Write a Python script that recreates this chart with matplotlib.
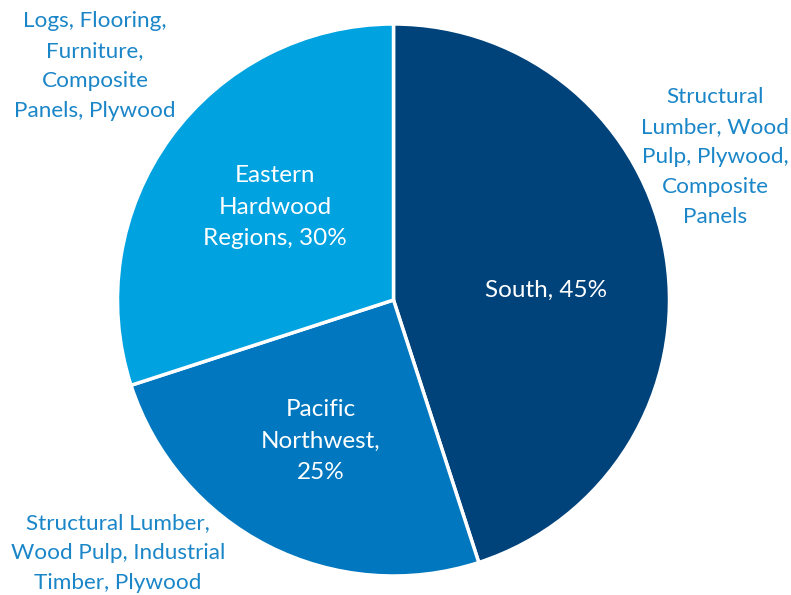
import matplotlib
matplotlib.use("Agg")
import matplotlib.pyplot as plt

regions = ["South", "Pacific\nNorthwest,", "Eastern\nHardwood\nRegions,"]
shares = [45, 25, 30]
colors = ["#00427a", "#0077be", "#00a2e0"]
products = [
    "Structural\nLumber, Wood\nPulp, Plywood,\nComposite\nPanels",
    "Structural Lumber,\nWood Pulp, Industrial\nTimber, Plywood",
    "Logs, Flooring,\nFurniture,\nComposite\nPanels, Plywood",
]

W, H = 791, 595
fig = plt.figure(figsize=(W / 100, H / 100), dpi=100)
ax = fig.add_axes([0, 0, 1, 1])

cx, cy, r = 393.5, H - 300, 276
ax.pie(shares, colors=colors, startangle=90, counterclock=False,
       center=(cx, cy), radius=r,
       wedgeprops=dict(edgecolor="white", linewidth=2.5))
ax.set_xlim(0, W)
ax.set_ylim(0, H)
ax.set_aspect("equal")
ax.axis("off")

font = "Lato"
txt_blue = "#1a86c8"

# inner labels
inner_pos = [(546, 290), (321, 441), (275, 207)]
for name, s, (x, y) in zip(regions, shares, inner_pos):
    if name == "South":
        label = f"{name}, {s}%"
    elif name.startswith("Pacific"):
        label = f"{name}\n{s}%"
    else:
        label = f"{name} {s}%"
    ax.text(x, H - y, label, color="white", ha="center", va="center",
            fontsize=17.5, family=font, linespacing=1.6)

# outer product labels
outer_pos = [(715, 157), (118, 553), (95, 66)]
for lab, (x, y) in zip(products, outer_pos):
    ax.text(x, H - y, lab, color=txt_blue, ha="center", va="center",
            fontsize=16.2, family=font, linespacing=1.63)

fig.savefig("out.png", dpi=100, facecolor="white")
